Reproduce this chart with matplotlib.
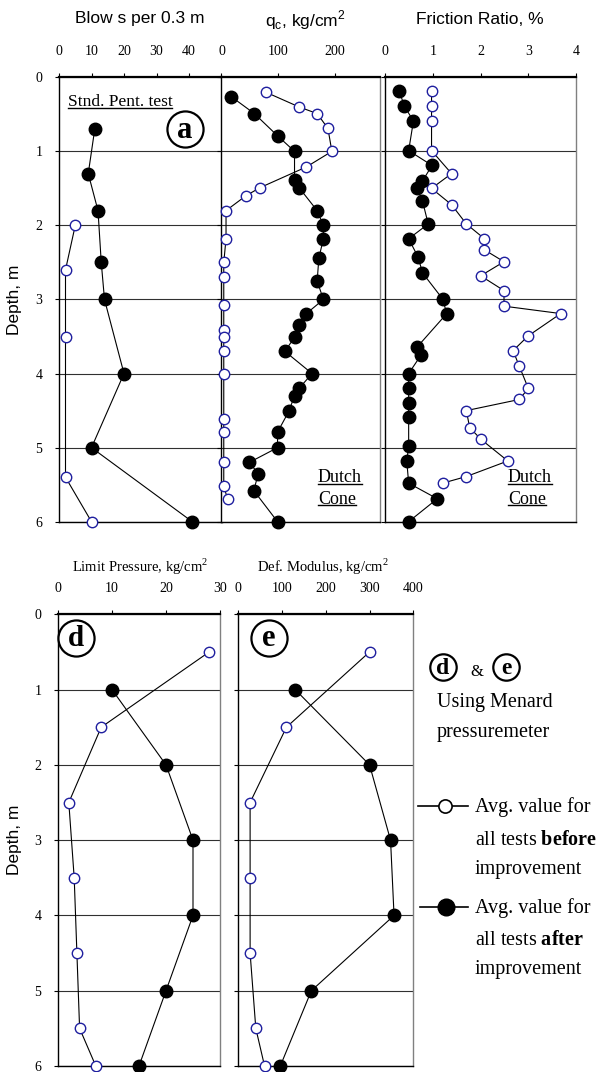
import matplotlib.pyplot as plt
from matplotlib.lines import Line2D

plt.rcParams['font.family'] = ['Liberation Serif', 'DejaVu Serif']
plt.rcParams['mathtext.fontset'] = 'custom'
plt.rcParams['mathtext.rm'] = 'Liberation Serif'
plt.rcParams['mathtext.bf'] = 'Liberation Serif:bold'

# (a) standard penetration test, blows per 0.3 m
spt_before_depth = [2.0, 2.6, 3.5, 5.4, 6.0]
spt_before = [5, 2, 2, 2, 10]
spt_after_depth = [0.7, 1.3, 1.8, 2.5, 3.0, 4.0, 5.0, 6.0]
spt_after = [11, 9, 12, 13, 14, 20, 10, 41]

# (b) dutch cone qc, kg/cm2
qc_before_depth = [0.2, 0.4, 0.49, 0.69, 1.0, 1.21, 1.49, 1.6, 1.8, 2.18, 2.5, 2.7,
                   3.08, 3.41, 3.5, 3.7, 4.0, 4.61, 4.79, 5.2, 5.52, 5.7]
qc_before = [78, 137, 169, 188, 195, 150, 68, 43, 8, 8, 4, 4,
             4, 4, 4, 4, 4, 4, 4, 4, 4, 11]
qc_after_depth = [0.26, 0.49, 0.79, 1.0, 1.39, 1.49, 1.8, 2.0, 2.18, 2.44, 2.75, 3.0, 3.19,
                  3.35, 3.51, 3.7, 4.0, 4.2, 4.3, 4.51, 4.79, 5.0, 5.2, 5.35, 5.58, 6.0]
qc_after = [17, 58, 99, 129, 129, 137, 169, 180, 180, 172, 169, 180, 150,
            137, 129, 112, 160, 137, 129, 119, 99, 99, 49, 65, 57, 99]

# (c) friction ratio, %
fr_before_depth = [0.18, 0.39, 0.59, 0.99, 1.3, 1.5, 1.72, 1.98, 2.18, 2.33, 2.49, 2.68, 2.88,
                   3.09, 3.19, 3.49, 3.69, 3.9, 4.2, 4.35, 4.5, 4.73, 4.89, 5.18, 5.39, 5.48]
fr_before = [0.97, 0.97, 0.97, 0.97, 1.39, 0.97, 1.39, 1.70, 2.08, 2.08, 2.49, 2.00, 2.49,
             2.49, 3.68, 3.00, 2.68, 2.81, 3.00, 2.81, 1.70, 1.77, 2.01, 2.57, 1.70, 1.20]
fr_after_depth = [0.18, 0.39, 0.59, 0.99, 1.19, 1.4, 1.5, 1.67, 1.98, 2.18, 2.43, 2.64, 2.99,
                  3.19, 3.64, 3.75, 4.0, 4.2, 4.4, 4.58, 4.98, 5.18, 5.48, 5.69, 6.0]
fr_after = [0.29, 0.40, 0.59, 0.49, 0.98, 0.78, 0.67, 0.78, 0.90, 0.49, 0.69, 0.78, 1.20,
            1.29, 0.67, 0.75, 0.49, 0.49, 0.49, 0.49, 0.49, 0.45, 0.49, 1.09, 0.49]

# (d) limit pressure and (e) deformation modulus, Menard pressuremeter
pm_before_depth = [0.5, 1.5, 2.5, 3.5, 4.5, 5.5, 6.0]
pm_after_depth = [1, 2, 3, 4, 5, 6]
lp_before = [28, 8, 2, 3, 3.5, 4, 7]
lp_after = [10, 20, 25, 25, 20, 15]
em_before = [300, 110, 27, 27, 27, 40, 60]
em_after = [130, 300, 348, 356, 167, 96]

OPEN_EDGE = '#1f1f9f'
W, H = 616, 1072

fig = plt.figure(figsize=(W / 100, H / 100), dpi=100)


def fx(px):
    return px / W


def fy(py):
    return 1 - py / H


def make_panel(left, right, top, bottom, xlim, xticks, ylabels):
    ax = fig.add_axes([fx(left), fy(bottom), fx(right - left), (bottom - top) / H])
    ax.set_xlim(*xlim)
    ax.set_ylim(6, 0)
    ax.xaxis.tick_top()
    ax.set_xticks(xticks)
    ax.set_yticks(range(7))
    ax.tick_params(axis='x', direction='out', length=3, pad=11, labelsize=10)
    ax.tick_params(axis='y', direction='out', length=3, pad=9, labelsize=10,
                   labelleft=ylabels)
    ax.yaxis.grid(True, color='#303030', lw=0.8)
    ax.set_axisbelow(True)
    for s in ax.spines.values():
        s.set_color('black')
        s.set_linewidth(1.0)
    ax.spines['top'].set_linewidth(1.6)
    ax.spines['right'].set_color('#808080')
    return ax


def draw(ax, bx, bd, ax_, ad):
    ax.plot(bx, bd, '-', color='black', lw=0.8, marker='o', ms=7.5, mfc='white',
            mec=OPEN_EDGE, mew=1.0, clip_on=False, zorder=3)
    ax.plot(ax_, ad, '-', color='black', lw=0.8, marker='o', ms=9, mfc='black',
            mec='black', clip_on=False, zorder=4)


ax_a = make_panel(59, 221.5, 77.3, 521.7, (0, 50), [0, 10, 20, 30, 40], True)
ax_b = make_panel(221.5, 380, 77.3, 521.7, (0, 280), [0, 100, 200], False)
ax_c = make_panel(385.3, 576, 77.3, 521.7, (0, 4), [0, 1, 2, 3, 4], False)
ax_d = make_panel(58, 220, 614.3, 1066, (0, 30), [0, 10, 20, 30], True)
ax_e = make_panel(238.3, 413.3, 614.3, 1066, (0, 400), [0, 100, 200, 300, 400], False)

draw(ax_a, spt_before, spt_before_depth, spt_after, spt_after_depth)
draw(ax_b, qc_before, qc_before_depth, qc_after, qc_after_depth)
draw(ax_c, fr_before, fr_before_depth, fr_after, fr_after_depth)
draw(ax_d, lp_before, pm_before_depth, lp_after, pm_after_depth)
draw(ax_e, em_before, pm_before_depth, em_after, pm_after_depth)

# titles
sans = 'Liberation Sans'
fig.text(fx(140), fy(19), 'Blow s per 0.3 m', family=sans, fontsize=12.5, ha='center', va='center')
fig.text(fx(305), fy(20), r'q$_\mathregular{c}$, kg/cm$^\mathregular{2}$', family=sans,
         fontsize=12.5, ha='center', va='center')
fig.text(fx(480), fy(20), 'Friction Ratio, %', family=sans, fontsize=12.5, ha='center', va='center')
fig.text(fx(140), fy(567), r'Limit Pressure, kg/cm$^\mathregular{2}$', fontsize=10.5,
         ha='center', va='center')
fig.text(fx(323), fy(567), r'Def. Modulus, kg/cm$^\mathregular{2}$', fontsize=10.5,
         ha='center', va='center')
fig.text(fx(15), fy(300), 'Depth, m', family=sans, fontsize=12.5, rotation=90,
         ha='center', va='center')
fig.text(fx(15), fy(840), 'Depth, m', family=sans, fontsize=12.5, rotation=90,
         ha='center', va='center')

# panel notes
underlined = []
underlined.append(fig.text(fx(120), fy(102), 'Stnd. Pent. test', fontsize=12.5,
                           ha='center', va='center'))
for x0 in (340, 530):
    underlined.append(fig.text(fx(x0), fy(478), 'Dutch', fontsize=13, ha='center', va='center'))
    underlined.append(fig.text(fx(x0 - 3), fy(499), 'Cone', fontsize=13, ha='center', va='center'))


def circled(x, y, letter, size, ms):
    fig.add_artist(Line2D([fx(x)], [fy(y)], marker='o', ms=ms, mfc='white', mec='black',
                          mew=1.6, transform=fig.transFigure, zorder=5))
    fig.text(fx(x), fy(y + 1), letter, fontsize=size, weight='bold', ha='center',
             va='center', zorder=6)


circled(185, 129, 'a', 22, 26)
circled(76, 638, 'd', 21, 26)
circled(269, 638, 'e', 22, 26)
circled(443, 667, 'd', 17, 19)
fig.text(fx(477), fy(672), '&', fontsize=12, ha='center', va='center')
circled(506, 667, 'e', 17, 19)

fig.text(fx(437), fy(703), 'Using Menard', fontsize=14.5, ha='left', va='center')
fig.text(fx(437), fy(732), 'pressuremeter', fontsize=14.5, ha='left', va='center')

# legend
fig.add_artist(Line2D([fx(418), fx(468)], [fy(806), fy(806)], color='black', lw=1.2,
                      transform=fig.transFigure))
fig.add_artist(Line2D([fx(445)], [fy(806)], marker='o', ms=9.5, mfc='white', mec='black',
                      mew=1.2, transform=fig.transFigure))
fig.add_artist(Line2D([fx(420), fx(468)], [fy(907), fy(907)], color='black', lw=1.2,
                      transform=fig.transFigure))
fig.add_artist(Line2D([fx(446)], [fy(907)], marker='o', ms=12, mfc='black', mec='black',
                      transform=fig.transFigure))
# baselines of legend text lines
leg_lines = [(812, 'Avg. value for'), (845, r'all tests $\mathbf{before}$'), (874, 'improvement'),
             (913, 'Avg. value for'), (945, r'all tests $\mathbf{after}$'), (974, 'improvement')]
for py, s in leg_lines:
    fig.text(fx(475), fy(py), s, fontsize=14.5, ha='left', va='baseline')

# underline the notes
fig.canvas.draw()
inv = fig.transFigure.inverted()
for t in underlined:
    bb = t.get_window_extent()
    (x0, y0), (x1, y1) = inv.transform([(bb.x0, bb.y0), (bb.x1, bb.y1)])
    yl = y0 + (y1 - y0) * 0.12
    fig.add_artist(Line2D([x0, x1], [yl, yl], color='black', lw=1.0, transform=fig.transFigure))

fig.savefig('out.png', dpi=100)
